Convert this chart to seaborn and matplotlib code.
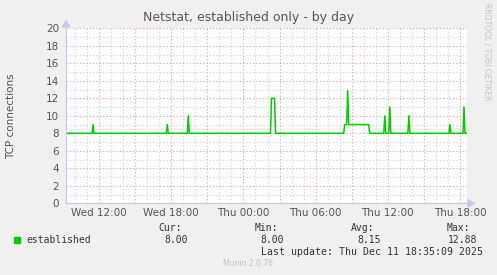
import matplotlib
matplotlib.use("Agg")
import matplotlib.pyplot as plt
import matplotlib.dates as mdates
from matplotlib.ticker import MultipleLocator
import pandas as pd
import seaborn as sns

# ---- data ----
times = [
    "2025-12-10 09:15", "2025-12-10 11:25", "2025-12-10 11:30", "2025-12-10 11:35",
    "2025-12-10 17:35", "2025-12-10 17:40", "2025-12-10 17:45",
    "2025-12-10 19:20", "2025-12-10 19:25", "2025-12-10 19:30",
    "2025-12-11 02:15", "2025-12-11 02:20", "2025-12-11 02:35", "2025-12-11 02:40",
    "2025-12-11 08:20", "2025-12-11 08:25", "2025-12-11 08:35", "2025-12-11 08:40",
    "2025-12-11 08:45", "2025-12-11 10:25", "2025-12-11 10:30",
    "2025-12-11 11:40", "2025-12-11 11:45", "2025-12-11 11:50",
    "2025-12-11 12:05", "2025-12-11 12:10", "2025-12-11 12:15",
    "2025-12-11 13:40", "2025-12-11 13:45", "2025-12-11 13:50",
    "2025-12-11 17:05", "2025-12-11 17:10", "2025-12-11 17:15",
    "2025-12-11 18:15", "2025-12-11 18:20", "2025-12-11 18:25", "2025-12-11 18:35",
]
established = [
    8, 8, 9, 8,
    8, 9, 8,
    8, 10, 8,
    8, 12, 12, 8,
    8, 9, 9, 12.88,
    9, 9, 8,
    8, 10, 8,
    8, 11, 8,
    8, 10, 8,
    8, 9, 8,
    8, 11, 8, 8,
]
tick_times = ["2025-12-10 12:00", "2025-12-10 18:00", "2025-12-11 00:00",
              "2025-12-11 06:00", "2025-12-11 12:00", "2025-12-11 18:00"]
tick_labels = ["Wed 12:00", "Wed 18:00", "Thu 00:00", "Thu 06:00", "Thu 12:00", "Thu 18:00"]
stat_names = ["Cur:", "Min:", "Avg:", "Max:"]
stat_values = ["8.00", "8.00", "8.15", "12.88"]
x_start = "2025-12-10 09:15"
x_end = "2025-12-11 18:35"

df = pd.DataFrame({"time": pd.to_datetime(times), "established": established})

sns.set_style("white")
plt.rcParams["font.family"] = ["DejaVu Sans"]

W, H = 497, 275
fig = plt.figure(figsize=(W / 100, H / 100), dpi=100, facecolor="#F0F0F0")
L, R, T, B = 66, 467, 28.3, 203.3
ax = fig.add_axes([L / W, 1 - B / H, (R - L) / W, (B - T) / H])
ax.set_facecolor("white")

x0, x1 = pd.Timestamp(x_start), pd.Timestamp(x_end)
ax.set_xlim(x0, x1)
ax.set_ylim(0, 20)

# grid
ax.xaxis.set_minor_locator(mdates.HourLocator(interval=1))
ax.xaxis.set_major_locator(mdates.HourLocator(byhour=range(0, 24, 3)))
ax.yaxis.set_major_locator(MultipleLocator(2))
ax.yaxis.set_minor_locator(MultipleLocator(1))
ax.grid(which="minor", color="#D0D0D0", linestyle=(0, (1, 2)), linewidth=0.8)
ax.grid(which="major", color="#EE9A9A", linestyle=(0, (1, 2)), linewidth=0.8)
ax.set_axisbelow(True)

sns.lineplot(data=df, x="time", y="established", ax=ax, color="#00CC00",
             linewidth=1.1, legend=False)

# ticks
ax.tick_params(axis="x", which="major", length=3, color="#E07070", labelsize=0)
ax.tick_params(axis="x", which="minor", length=0)
ax.tick_params(axis="y", which="both", length=2, color="#C0C0C0", labelsize=7.5,
               labelcolor="#555555", pad=3)
ax.set_xticklabels([])
for t, lab in zip(tick_times, tick_labels):
    ax.text(pd.Timestamp(t), -1.1, lab, ha="center", va="center", fontsize=7.5,
            color="#555555", transform=ax.transData, clip_on=False)

for s in ["top", "right"]:
    ax.spines[s].set_visible(False)
for s in ["left", "bottom"]:
    ax.spines[s].set_color("#C8C8F0")
    ax.spines[s].set_linewidth(0.8)

ax.set_xlabel("")
ax.set_ylabel("TCP connections", fontsize=7.5, color="#555555")
ax.yaxis.set_label_coords((16 - L) / (R - L), 0.5)

# arrows
fig.patches.append(plt.Polygon([[L / W, 1 - 20.5 / H], [(L - 3.5) / W, 1 - 27 / H],
                                [(L + 3.5) / W, 1 - 27 / H]], closed=True,
                               transform=fig.transFigure, color="#C8C8F0", zorder=5))
fig.patches.append(plt.Polygon([[474.5 / W, 1 - B / H], [468 / W, 1 - (B - 3.5) / H],
                                [468 / W, 1 - (B + 3.5) / H]], closed=True,
                               transform=fig.transFigure, color="#C8C8F0", zorder=5))

# title
fig.text(248.5 / W, 1 - 18 / H, "Netstat, established only - by day", ha="center",
         va="center", fontsize=9, color="#555555")
# side text
fig.text(487.5 / W, 1 - 52 / H, "RRDTOOL / TOBI OETIKER", rotation=-90, ha="center",
         va="center", fontsize=5.5, color="#C4C4C4")

# legend
fig.patches.append(plt.Rectangle((14 / W, 1 - 243 / H), 6 / W, 6 / H,
                                 transform=fig.transFigure, color="#00CC00"))
mono = "DejaVu Sans Mono"
fig.text(26 / W, 1 - 239.8 / H, "established", ha="left", va="center", fontsize=7,
         family=mono, color="#333333")
name_x = [170.5, 266, 362.5, 458.5]
val_right = [188, 284, 380.5, 477]
for nx, name, vr, val in zip(name_x, stat_names, val_right, stat_values):
    fig.text(nx / W, 1 - 227.8 / H, name, ha="center", va="center", fontsize=7,
             family=mono, color="#333333")
    fig.text(vr / W, 1 - 239.8 / H, val, ha="right", va="center", fontsize=7,
             family=mono, color="#333333")
fig.text(483 / W, 1 - 251.8 / H, "Last update: Thu Dec 11 18:35:09 2025", ha="right",
         va="center", fontsize=7.1, family=mono, color="#333333")
fig.text(248 / W, 1 - 264 / H, "Munin 2.0.76", ha="center", va="center", fontsize=5.5,
         color="#C0C0C0")

fig.savefig("out.png", dpi=100, facecolor=fig.get_facecolor())
